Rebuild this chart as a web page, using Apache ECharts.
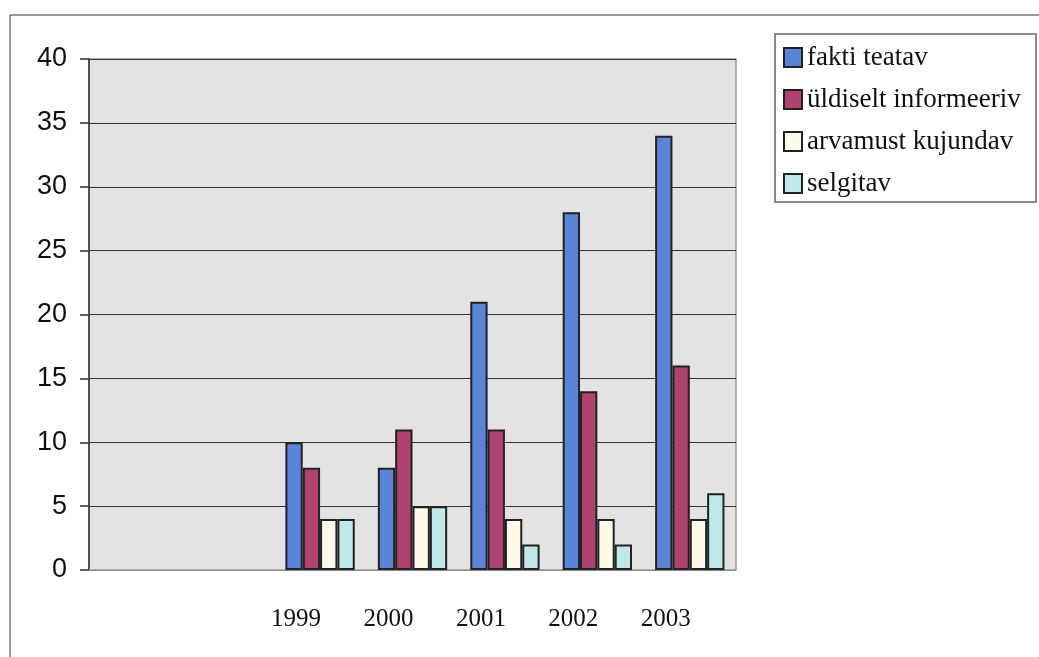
<!DOCTYPE html>
<html>
<head>
<meta charset="utf-8">
<script src="https://cdn.jsdelivr.net/npm/echarts@6/dist/echarts.min.js"></script>
<style>html,body{margin:0;padding:0;background:#fff}#c{width:1039px;height:657px}</style>
</head>
<body>
<div id="c"></div>
<script>
var categories = ['', '', '1999', '2000', '2001', '2002', '2003'];
var faktiTeatav = [null, null, 10, 8, 21, 28, 34];
var uldiseltInformeeriv = [null, null, 8, 11, 11, 14, 16];
var arvamustKujundav = [null, null, 4, 5, 4, 4, 4];
var selgitav = [null, null, 4, 5, 2, 2, 6];
var seriesNames = ['fakti teatav', 'üldiselt informeeriv', 'arvamust kujundav', 'selgitav'];
var yTicks = [0, 40, 5];

var colors = ['#5b84d8', '#b0426f', '#fffbea', '#bfe8e9'];
var dataSets = [faktiTeatav, uldiseltInformeeriv, arvamustKujundav, selgitav];

var chart = echarts.init(document.getElementById('c'));
chart.setOption({
  animation: false,
  backgroundColor: '#fff',
  grid: {
    left: 89, right: 303, top: 59, bottom: 87,
    show: true, backgroundColor: '#e3e3e3', borderColor: '#9a9a9a', borderWidth: 1.5
  },
  graphic: [
    { type: 'line', shape: { x1: 10, y1: 15, x2: 1039, y2: 15 }, style: { stroke: '#777', lineWidth: 1.5 } },
    { type: 'line', shape: { x1: 10, y1: 15, x2: 10, y2: 657 }, style: { stroke: '#777', lineWidth: 1.5 } },
    { type: 'rect', shape: { x: 775, y: 34, width: 261, height: 168 }, style: { fill: 'none', stroke: '#666', lineWidth: 1.5 }, z: 10 }
  ],
  legend: {
    orient: 'vertical', left: 777, top: 34, padding: [10, 8, 10, 6],
    itemWidth: 18, itemHeight: 19, itemGap: 15, icon: 'rect',
    data: seriesNames,
    itemStyle: { borderColor: '#222', borderWidth: 2 },
    textStyle: { fontFamily: 'Liberation Serif', fontSize: 27, lineHeight: 26, color: '#111', padding: [0, 0, 0, 0] }
  },
  xAxis: {
    type: 'category', data: categories,
    axisLine: { show: true, lineStyle: { color: '#aaa', width: 1.5 } },
    axisTick: { show: false },
    axisLabel: { margin: 37, fontFamily: 'Liberation Serif', fontSize: 25, color: '#111', padding: [0, 48, 0, 0], interval: 0 }
  },
  yAxis: {
    type: 'value', min: yTicks[0], max: yTicks[1], interval: yTicks[2],
    axisLine: { show: true, lineStyle: { color: '#333', width: 1.5 } },
    axisTick: { show: true, length: 9, lineStyle: { color: '#333', width: 1.5 } },
    axisLabel: { margin: 22, fontFamily: 'Liberation Sans', fontSize: 27, color: '#111' },
    splitLine: { show: true, lineStyle: { color: '#333', width: 1.2 } }
  },
  series: seriesNames.map(function (n, i) {
    return {
      name: n, type: 'bar', data: dataSets[i],
      barGap: '0%', barCategoryGap: '25%',
      itemStyle: { color: colors[i], borderColor: '#222', borderWidth: 2 }
    };
  })
});
</script>
</body>
</html>
